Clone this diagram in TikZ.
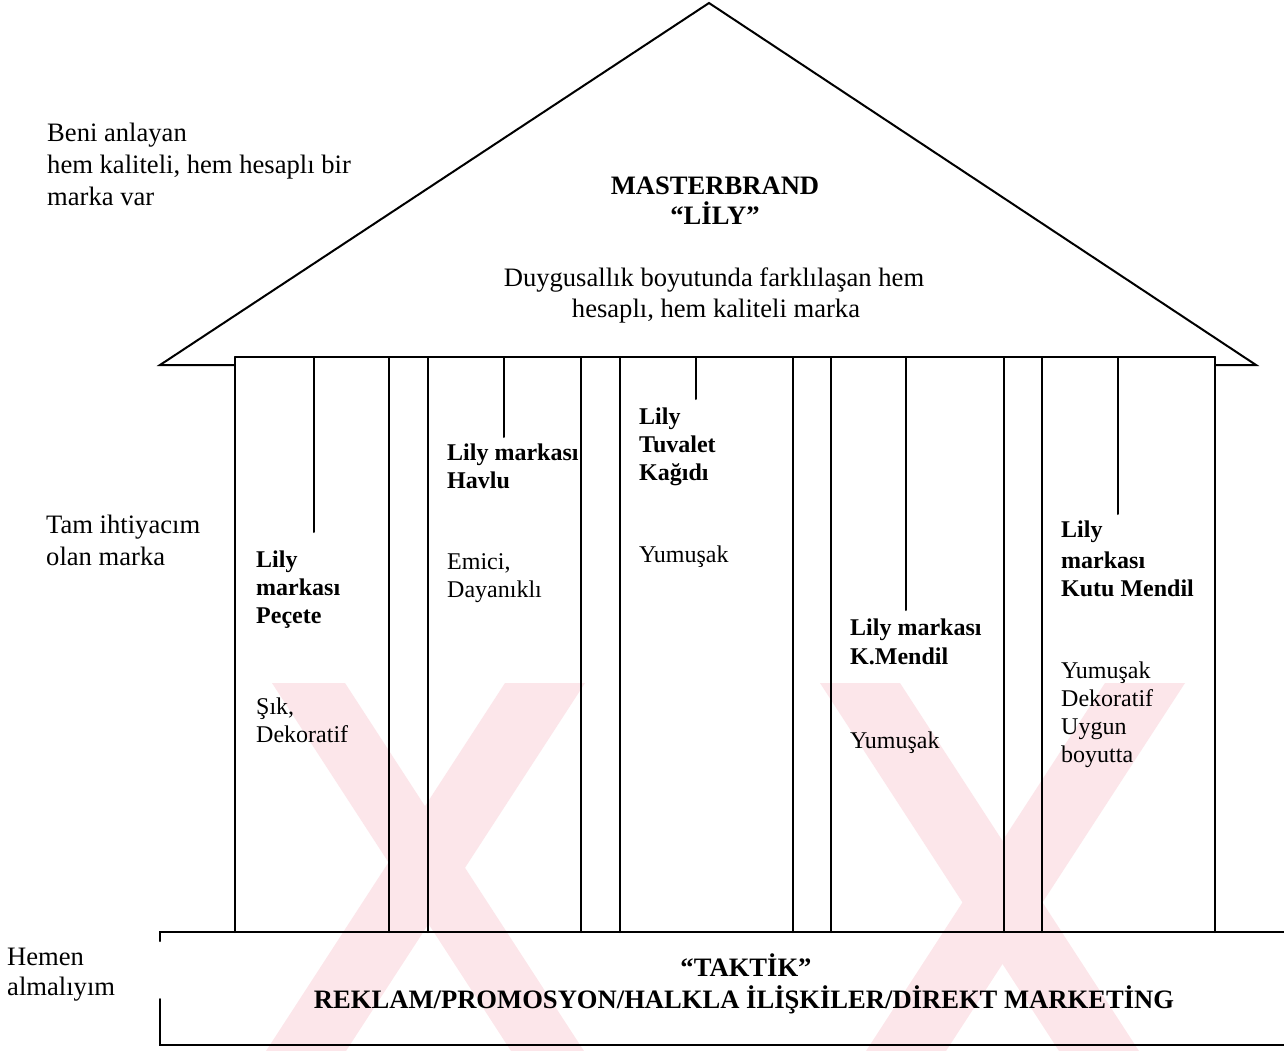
\documentclass[tikz,border=0pt]{standalone}
\usepackage{fontspec}
\setmainfont{Liberation Serif}
\definecolor{wm}{RGB}{252,230,234}
\begin{document}
\begin{tikzpicture}[x=1pt,y=-1pt,
  ln/.style={line width=2pt, line cap=round, line join=miter},
  wmband/.style={fill=wm, draw=none},
  bigl/.style={font=\fontsize{26.6}{31}\selectfont, inner sep=0pt, anchor=base west},
  bigc/.style={font=\fontsize{26.6}{31}\selectfont, inner sep=0pt, anchor=base},
  bigbc/.style={font=\bfseries\fontsize{26.6}{31}\selectfont, inner sep=0pt, anchor=base},
  lab/.style={font=\bfseries\fontsize{24}{29}\selectfont, inner sep=0pt, anchor=base west},
  txt/.style={font=\fontsize{24}{28}\selectfont, inner sep=0pt, anchor=base west}]
\useasboundingbox (0,0) rectangle (1284,1051);
% roof
\coordinate (apex) at (709,3);
\coordinate (rl) at (160,365);
\coordinate (rr) at (1256,365);
\draw[ln, fill=white] (rl) -- (apex) -- (rr) -- cycle;
% pillars block
\coordinate (ptl) at (235,357);
\coordinate (pbr) at (1215,932);
\fill[white] (ptl) rectangle (pbr);
% watermark (pale background stripes)
\fill[wmband] (272,683) -- (345,683) -- (584,1051) -- (511,1051) -- cycle;
\fill[wmband] (505,683) -- (585,683) -- (346,1051) -- (266,1051) -- cycle;
\fill[wmband] (820,683) -- (900,683) -- (1139,1051) -- (1059,1051) -- cycle;
\fill[wmband] (1105,683) -- (1185,683) -- (946,1051) -- (866,1051) -- cycle;
% pillar lines
\draw[ln] (ptl) -- (1215,357);
\foreach \x/\n in {235/a,389/b,428/c,581/d,620/e,793/f,831/g,1004/h,1042/i,1215/j}{
  \coordinate (pt\n) at (\x,357);
  \coordinate (pb\n) at (\x,932);
  \draw[ln] (pt\n) -- (pb\n);
}
% hanging lines
\foreach \x/\y/\n in {314/532/1,504/437/2,696/399/3,906/610/4,1118/514/5}{
  \coordinate (ht\n) at (\x,357);
  \coordinate (hb\n) at (\x,\y);
  \draw[ln] (ht\n) -- (hb\n);
}
% base
\coordinate (btl) at (160,932);
\coordinate (btr) at (1284,932);
\coordinate (bbl) at (160,1045);
\coordinate (bbr) at (1284,1045);
\coordinate (bg1) at (160,941);
\coordinate (bg2) at (160,999);
\draw[ln] (bg1) -- (btl) -- (btr);
\draw[ln] (bg2) -- (bbl) -- (bbr);
% roof texts
\node[bigbc] (mb) at (715,195) {MASTERBRAND};
\node[bigbc] (lily) at (715,224) {“LİLY”};
\node[bigc] (d1) at (714,286) {Duygusallık boyutunda farklılaşan hem};
\node[bigc] (d2) at (716,317) {hesaplı, hem kaliteli marka};
% left texts
\node[bigl] (l1) at (47,142) {Beni anlayan};
\node[bigl] (l2) at (47,173.5) {hem kaliteli, hem hesaplı bir};
\node[bigl] (l3) at (47,205) {marka var};
\node[bigl] (t1) at (46,533) {Tam ihtiyacım};
\node[bigl] (t2) at (46,565) {olan marka};
\node[bigl] (h1) at (7,965) {Hemen};
\node[bigl] (h2) at (7,995) {almalıyım};
% pillar 1
\node[lab] (p1a) at (256,567) {Lily};
\node[lab] (p1b) at (256,595) {markası};
\node[lab] (p1c) at (256,623) {Peçete};
\node[txt] (p1d) at (256,714) {Şık,};
\node[txt] (p1e) at (256,742) {Dekoratif};
% pillar 2
\node[lab] (p2a) at (447,460) {Lily markası};
\node[lab] (p2b) at (447,488) {Havlu};
\node[txt] (p2c) at (447,569) {Emici,};
\node[txt] (p2d) at (447,597) {Dayanıklı};
% pillar 3
\node[lab] (p3a) at (639,424) {Lily};
\node[lab] (p3b) at (639,452) {Tuvalet};
\node[lab] (p3c) at (639,480) {Kağıdı};
\node[txt] (p3d) at (639,562) {Yumuşak};
% pillar 4
\node[lab] (p4a) at (850,635) {Lily markası};
\node[lab] (p4b) at (850,664) {K.Mendil};
\node[txt] (p4c) at (850,748) {Yumuşak};
% pillar 5
\node[lab] (p5a) at (1061,537) {Lily};
\node[lab] (p5b) at (1061,568) {markası};
\node[lab] (p5c) at (1061,596) {Kutu Mendil};
\node[txt] (p5d) at (1061,678) {Yumuşak};
\node[txt] (p5e) at (1061,706) {Dekoratif};
\node[txt] (p5f) at (1061,734) {Uygun};
\node[txt] (p5g) at (1061,762) {boyutta};
% base texts
\node[bigbc] (tk) at (746,976) {“TAKTİK”};
\node[bigbc] (rk) at (744,1008) {REKLAM/PROMOSYON/HALKLA İLİŞKİLER/DİREKT MARKETİNG};
\end{tikzpicture}
\end{document}
